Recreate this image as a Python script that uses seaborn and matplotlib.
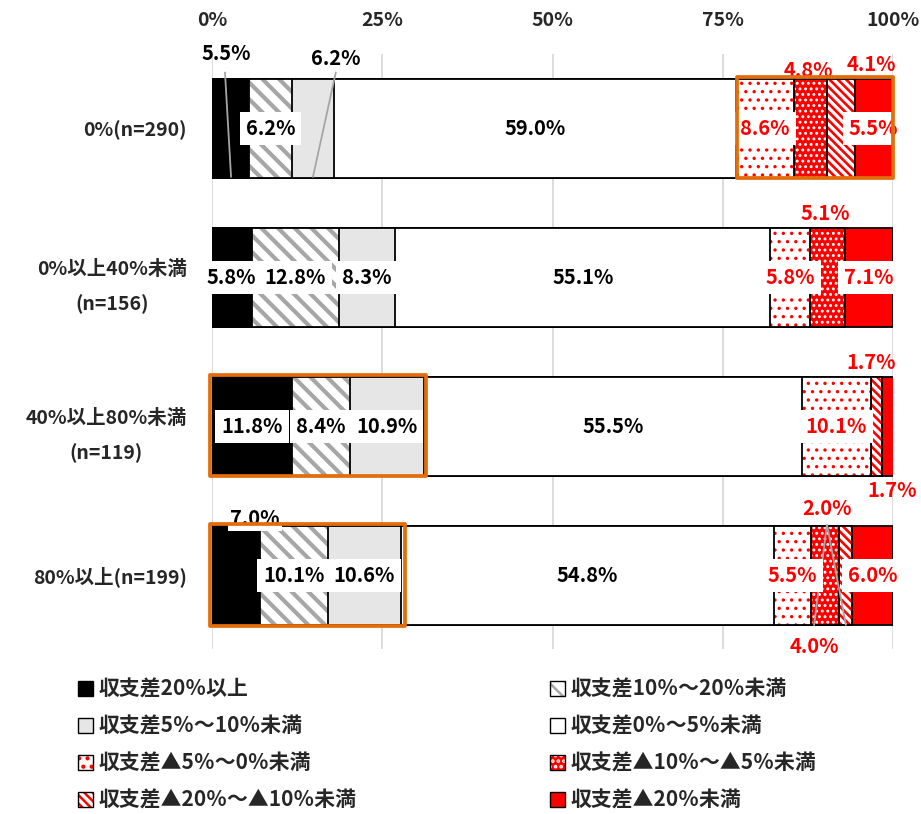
import matplotlib
matplotlib.use("Agg")
import matplotlib.pyplot as plt
import numpy as np
import pandas as pd
import seaborn as sns
from matplotlib.patches import Patch, Rectangle
from matplotlib.legend_handler import HandlerTuple

# ---- data -------------------------------------------------------------
categories = ["0%(n=290)", "0%以上40%未満\n(n=156)", "40%以上80%未満\n(n=119)", "80%以上(n=199)"]
series = [
    "収支差20％以上",
    "収支差10％～20％未満",
    "収支差5％～10％未満",
    "収支差0％～5％未満",
    "収支差▲5％～0％未満",
    "収支差▲10％～▲5％未満",
    "収支差▲20％～▲10％未満",
    "収支差▲20％未満",
]
v_20_up = [5.5, 5.8, 11.8, 7.0]
v_10_20 = [6.2, 12.8, 8.4, 10.1]
v_5_10 = [6.2, 8.3, 10.9, 10.6]
v_0_5 = [59.0, 55.1, 55.5, 54.8]
v_m5_0 = [8.6, 5.8, 10.1, 5.5]
v_m10_m5 = [4.8, 5.1, 0.0, 4.0]
v_m20_m10 = [4.1, 0.0, 1.7, 2.0]
v_m20_under = [5.5, 7.1, 1.7, 6.0]
x_ticks = [0, 25, 50, 75, 100]
x_tick_labels = ["0%", "25%", "50%", "75%", "100%"]

values = [v_20_up, v_10_20, v_5_10, v_0_5, v_m5_0, v_m10_m5, v_m20_m10, v_m20_under]
df = pd.DataFrame({"区分": categories})
for name, vals in zip(series, values):
    df[name] = vals
cum = df[series].cumsum(axis=1)

# ---- styles -----------------------------------------------------------
RED = "#FF0000"
GRAY_H = "#A6A6A6"
ORANGE = "#E46C0A"
faces = ["black", "white", "#E6E6E6", "white", "white", RED, "white", RED]
hatches = [None, "\\\\", None, None, "..", "...", "\\\\\\\\", None]
hatch_cols = ["black", GRAY_H, "black", "black", RED, "white", RED, "black"]
hatch_lws = [1, 3.0, 1, 1, 1.2, 1.3, 1.9, 1]
text_cols = ["black"] * 4 + [RED] * 4

sns.set_theme(style="white")
plt.rcParams["font.family"] = ["Noto Sans CJK JP", "DejaVu Sans"]
plt.rcParams["font.weight"] = "bold"
plt.rcParams["hatch.linewidth"] = 1.8

fig = plt.figure(figsize=(9.21, 8.14), dpi=100)
ax = fig.add_axes([0.2302, 0.2021, 0.7394, 0.7316])

BAR_H = 0.665
EDGE_LW = 1.3

# stacked bars: cumulative totals drawn from the longest to the shortest
for i in reversed(range(len(series))):
    n0 = len(ax.patches)
    sns.barplot(x=cum[series[i]].values, y=df["区分"].values, orient="h",
                color=faces[i], saturation=1, width=BAR_H, errorbar=None, ax=ax)
    for p in ax.patches[n0:]:
        p.set_facecolor(faces[i])
        p.set_linewidth(0)
        p.set_zorder(2)
        if hatches[i]:
            p.set_hatch(hatches[i])
            p.set_edgecolor(hatch_cols[i])
            if hasattr(p, "set_hatch_linewidth"):
                p.set_hatch_linewidth(hatch_lws[i])
        else:
            p.set_edgecolor(faces[i])
    n1 = len(ax.patches)
    sns.barplot(x=cum[series[i]].values, y=df["区分"].values, orient="h",
                color="black", saturation=1, width=BAR_H, errorbar=None, ax=ax)
    for p in ax.patches[n1:]:
        p.set_facecolor("none")
        p.set_edgecolor("black")
        p.set_linewidth(EDGE_LW)
        p.set_zorder(2)

# ---- value labels -----------------------------------------------------
LABEL_FS = 14.5
# labels placed outside their segment: (row, series) -> (x, y)
outside = {
    (0, 0): (2.1, -0.50),
    (0, 2): (18.2, -0.47),
    (0, 5): (87.5, -0.39),
    (0, 6): (96.8, -0.43),
    (1, 5): (90.0, 0.57),
    (2, 6): (96.8, 1.57),
    (2, 7): (99.9, 2.43),
    (3, 0): (6.3, 2.62),
    (3, 6): (90.3, 2.55),
    (3, 5): (88.4, 3.48),
}
for r in range(len(categories)):
    left = 0.0
    for i, name in enumerate(series):
        v = df.loc[r, name]
        txt = f"{v:.1f}%"
        if (r, i) in outside:
            x, y = outside[(r, i)]
            bbox = dict(facecolor="white", edgecolor="none", pad=1.5) if (r, i) == (3, 0) else None
            ax.text(x, y, txt, ha="center", va="center", fontsize=LABEL_FS,
                    fontweight="bold", color=text_cols[i], zorder=5, bbox=bbox)
        elif v > 0:
            ax.text(left + v / 2, r, txt, ha="center", va="center", fontsize=LABEL_FS,
                    fontweight="bold", color=text_cols[i], zorder=5,
                    bbox=dict(boxstyle="square,pad=0.3", facecolor="white", edgecolor="none"))
        left += v

# leader lines
leaders = [
    ((1.9, 2.8), (-0.38, 0.33)),
    ((18.2, 14.8), (-0.38, 0.33)),
    ((90.3, 88.4), (2.66, 3.34)),
    ((90.3, 93.1), (2.66, 3.34)),
]
for xs, ys in leaders:
    ax.plot(xs, ys, color=GRAY_H, lw=1.3, zorder=4, solid_capstyle="butt")

# highlight frames
frames = [
    (77.1, -0.346, 22.9, 0.679),
    (-0.3, 1.657, 31.7, 0.678),
    (-0.3, 2.657, 28.6, 0.683),
]
for x0, y0, w, h in frames:
    ax.add_patch(Rectangle((x0, y0), w, h, facecolor="none", edgecolor=ORANGE,
                           lw=2.7, joinstyle="round", zorder=6, clip_on=False))

# ---- axes -------------------------------------------------------------
ax.set_xlim(0, 100)
ax.set_ylim(3.5, -0.5)
ax.xaxis.tick_top()
ax.set_xticks(x_ticks)
ax.set_xticklabels(x_tick_labels, fontsize=14, fontweight="bold")
ax.set_yticks(range(len(categories)))
ax.set_yticklabels(categories, fontsize=14, fontweight="bold",
                   multialignment="center", linespacing=2.0)
ax.tick_params(axis="x", length=0, pad=17)
ax.tick_params(axis="y", length=0, pad=18)
ax.set_xlabel("")
ax.set_ylabel("")
ax.grid(axis="x", color="#D9D9D9", lw=1.3, zorder=0)
ax.grid(axis="y", visible=False)
ax.set_axisbelow(True)
for s in ax.spines.values():
    s.set_visible(False)

# ---- legend -----------------------------------------------------------
def make_handle(i):
    base = Patch(facecolor=faces[i], edgecolor=hatch_cols[i] if hatches[i] else faces[i],
                 hatch=hatches[i], lw=0)
    outline = Patch(facecolor="none", edgecolor="black", lw=1.0)
    return (base, outline)

handles = [make_handle(i) for i in range(len(series))]
leg_kw = dict(loc="upper left", frameon=False, borderpad=0, borderaxespad=0,
              handlelength=0.7, handleheight=0.7, handletextpad=0.3,
              labelspacing=0.76, prop={"size": 15, "weight": "bold"},
              handler_map={tuple: HandlerTuple(ndivide=1)})
left_idx = [0, 2, 4, 6]
right_idx = [1, 3, 5, 7]
fig.legend([handles[i] for i in left_idx], [series[i] for i in left_idx],
           bbox_to_anchor=(78 / 921, 1 - 679 / 814), **leg_kw)
fig.legend([handles[i] for i in right_idx], [series[i] for i in right_idx],
           bbox_to_anchor=(550 / 921, 1 - 679 / 814), **leg_kw)

fig.savefig("out.png", dpi=100)
